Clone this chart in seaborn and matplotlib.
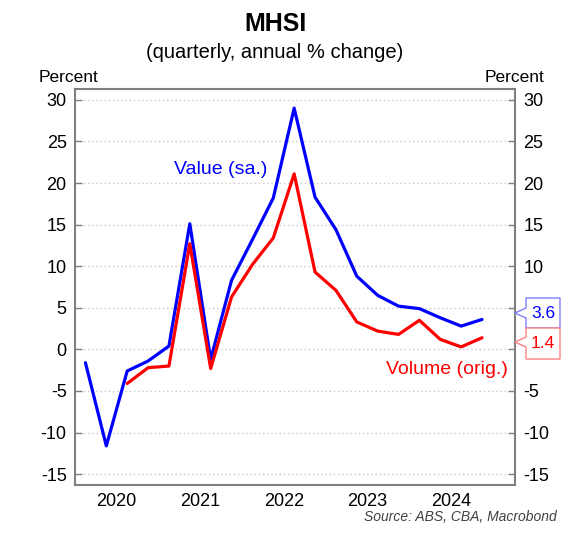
import numpy as np
import pandas as pd
import matplotlib
matplotlib.use("Agg")
import matplotlib.pyplot as plt
from matplotlib.patches import Polygon
import seaborn as sns

# quarterly data, 2020Q1 .. 2024Q4
quarters = pd.period_range("2020Q1", "2024Q4", freq="Q")
value_sa = [-1.6, -11.6, -2.6, -1.4, 0.4, 15.1, -1.2, 8.3, 13.2, 18.2,
            29.0, 18.3, 14.4, 8.8, 6.5, 5.2, 4.9, 3.8, 2.8, 3.6]
volume_orig = [np.nan, np.nan, -4.1, -2.2, -2.0, 12.7, -2.3, 6.3, 10.2, 13.4,
               21.1, 9.3, 7.1, 3.3, 2.2, 1.8, 3.5, 1.2, 0.3, 1.4]
years = [2020, 2021, 2022, 2023, 2024]
yticks = list(range(-15, 31, 5))

# position each quarter at its mid point (fractional year)
xq = np.array([q.year + (q.quarter - 0.5) / 4 for q in quarters])
df = pd.DataFrame({"x": xq, "value": value_sa, "volume": volume_orig})

sns.set_style("white")
plt.rcParams["font.family"] = ["Liberation Sans", "DejaVu Sans"]
plt.rcParams["text.color"] = "black"

W, H = 572, 542
fig = plt.figure(figsize=(W / 100, H / 100), dpi=100)
ax = fig.add_axes([75 / W, 1 - 485 / H, (515 - 75) / W, (485 - 89) / H])

sns.lineplot(data=df, x="x", y="value", color="#0000ff", lw=2.3, ax=ax)
sns.lineplot(data=df.dropna(), x="x", y="volume", color="#ff0000", lw=2.3, ax=ax)

ax.set_xlim(2020.0, 2025.27)
ax.set_ylim(-16.3, 31.3)
ax.set_xlabel("")
ax.set_ylabel("")

ax.set_yticks(yticks)
ax.set_yticklabels([str(v) for v in yticks])
ax.yaxis.grid(True, color="#c8c8c8", ls=(0, (1, 2)), lw=1)
ax.set_axisbelow(True)

# year labels centred, tick marks at year boundaries
ax.set_xticks([y + 0.5 for y in years])
ax.set_xticklabels([str(y) for y in years])
ax.set_xticks([y + 1 for y in years], minor=True)
ax.tick_params(axis="x", which="major", length=0, pad=6, labelsize=13, labelcolor="black")
ax.tick_params(axis="x", which="minor", direction="in", length=5, width=1, color="#808080")
ax.tick_params(axis="y", direction="in", length=5, width=1, color="#808080",
               left=True, right=True, labelleft=True, labelright=True,
               labelsize=13, pad=6, labelcolor="black")

# right-hand labels for 5 and 0 sit under the end-value callouts
for t in ax.yaxis.get_major_ticks():
    if t.get_loc() in (0, 5):
        t.label2.set_visible(False)

for s in ax.spines.values():
    s.set_color("#808080")
    s.set_linewidth(1.5)

# series labels
ax.text(2021.18, 21.6, "Value (sa.)", color="#0000ff", fontsize=14, va="center")
ax.text(2023.72, -2.4, "Volume (orig.)", color="#ff0000", fontsize=14, va="center")

# titles
fig.text(275 / W, 1 - 24 / H, "MHSI", fontsize=18, fontweight="bold", ha="center", va="center")
fig.text(275 / W, 1 - 52 / H, "(quarterly, annual % change)", fontsize=14.5, ha="center", va="center")
fig.text(69 / W, 1 - 77 / H, "Percent", fontsize=12.5, ha="center", va="center")
fig.text(515 / W, 1 - 77 / H, "Percent", fontsize=12.5, ha="center", va="center")
fig.text(557 / W, 1 - 517 / H, "Source: ABS, CBA, Macrobond", fontsize=10,
         style="italic", color="#404040", ha="right", va="center")


def callout(top, bottom, tip_y, label, edge, txt):
    pts = [(526, top), (560, top), (560, bottom), (526, bottom),
           (526, tip_y + 5), (515, tip_y), (526, tip_y - 5)]
    poly = Polygon([(x / W, 1 - y / H) for x, y in pts], closed=True,
                   transform=fig.transFigure, facecolor="white",
                   edgecolor=edge, lw=1, clip_on=False)
    fig.add_artist(poly)
    fig.text(543 / W, 1 - (top + bottom) / 2 / H, label, color=txt,
             fontsize=12.5, ha="center", va="center")


callout(298, 328, 313, f"{value_sa[-1]:.1f}", "#8080ff", "#0000ff")
callout(328, 359, 342, f"{volume_orig[-1]:.1f}", "#ff8080", "#ff0000")

fig.savefig("out.png", dpi=100)
